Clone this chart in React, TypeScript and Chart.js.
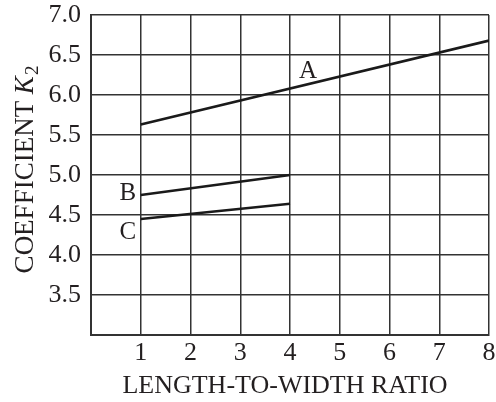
import React, { useEffect, useRef } from "react";
import { Chart, registerables } from "chart.js";

Chart.register(...registerables);

const curveA = [
  { x: 1, y: 5.63 },
  { x: 8, y: 6.68 },
];
const curveB = [
  { x: 1, y: 4.75 },
  { x: 4, y: 5.0 },
];
const curveC = [
  { x: 1, y: 4.45 },
  { x: 4, y: 4.64 },
];
const curveLabels = [
  { text: "A", x: 4.36, y: 6.21 },
  { text: "B", x: 0.74, y: 4.69 },
  { text: "C", x: 0.74, y: 4.2 },
];
const xTitle = "LENGTH-TO-WIDTH RATIO";
const yTitleMain = "COEFFICIENT ";
const yTitleVar = "K";
const yTitleSub = "2";

const FONT = "'Liberation Serif', 'Times New Roman', Times, serif";
const INK = "#231f20";

const textPlugin = {
  id: "textPlugin",
  afterDraw(chart: any) {
    const ctx = chart.ctx;
    const xs = chart.scales.x;
    const ys = chart.scales.y;
    ctx.save();
    ctx.fillStyle = INK;
    ctx.textBaseline = "alphabetic";
    ctx.textAlign = "center";
    ctx.font = `25px ${FONT}`;
    for (const l of curveLabels) {
      ctx.fillText(l.text, xs.getPixelForValue(l.x), ys.getPixelForValue(l.y));
    }
    ctx.font = `26px ${FONT}`;
    ctx.fillText(xTitle, 285, 393);
    // y title rotated
    ctx.translate(33, 170);
    ctx.rotate(-Math.PI / 2);
    ctx.font = `27px ${FONT}`;
    const w1 = ctx.measureText(yTitleMain).width;
    ctx.font = `italic 27px ${FONT}`;
    const w2 = ctx.measureText(yTitleVar).width;
    ctx.font = `19px ${FONT}`;
    const w3 = ctx.measureText(yTitleSub).width;
    const total = w1 + w2 + w3;
    let x0 = -total / 2;
    ctx.textAlign = "left";
    ctx.font = `27px ${FONT}`;
    ctx.fillText(yTitleMain, x0, 0);
    x0 += w1;
    ctx.font = `italic 27px ${FONT}`;
    ctx.fillText(yTitleVar, x0, 0);
    x0 += w2 + 1;
    ctx.font = `19px ${FONT}`;
    ctx.fillText(yTitleSub, x0, 5);
    ctx.restore();
  },
};

export default function App() {
  const ref = useRef<HTMLCanvasElement>(null);
  useEffect(() => {
    const lineStyle = {
      borderColor: "#1a1a1a",
      borderWidth: 2.6,
      pointRadius: 0,
      fill: false,
      tension: 0,
    };
    const chart = new Chart(ref.current!, {
      type: "scatter",
      data: {
        datasets: [
          { label: "A", data: curveA, showLine: true, ...lineStyle },
          { label: "B", data: curveB, showLine: true, ...lineStyle },
          { label: "C", data: curveC, showLine: true, ...lineStyle },
        ],
      },
      options: {
        animation: false,
        responsive: false,
        layout: { padding: { top: 15, right: 7, left: 0, bottom: 0 } },
        plugins: { legend: { display: false }, tooltip: { enabled: false } },
        scales: {
          x: {
            type: "linear",
            min: 0,
            max: 8,
            afterFit(s: any) {
              s.height = 67;
              s.paddingLeft = 0;
              s.paddingRight = 0;
            },
            ticks: {
              stepSize: 1,
              color: INK,
              font: { family: FONT, size: 26 },
              padding: 3,
              maxRotation: 0,
              callback: (v: any) => (v === 0 ? "" : String(v)),
            },
            grid: { color: "#333333", lineWidth: 1.5, drawTicks: false },
            border: { color: "#333333", width: 2 },
          },
          y: {
            type: "linear",
            min: 3,
            max: 7,
            afterFit(s: any) {
              s.width = 91;
              s.paddingTop = 0;
              s.paddingBottom = 0;
            },
            ticks: {
              stepSize: 0.5,
              color: INK,
              font: { family: FONT, size: 26 },
              padding: 10,
              callback: (v: any) => (v === 3 ? "" : Number(v).toFixed(1)),
            },
            grid: { color: "#333333", lineWidth: 1.5, drawTicks: false },
            border: { color: "#333333", width: 2 },
          },
        },
      },
      plugins: [textPlugin],
    });
    return () => chart.destroy();
  }, []);
  return (
    <div style={{ position: "fixed", left: 0, top: 0, width: 496, height: 402, background: "#fff" }}>
      <canvas ref={ref} width={496} height={402} />
    </div>
  );
}
